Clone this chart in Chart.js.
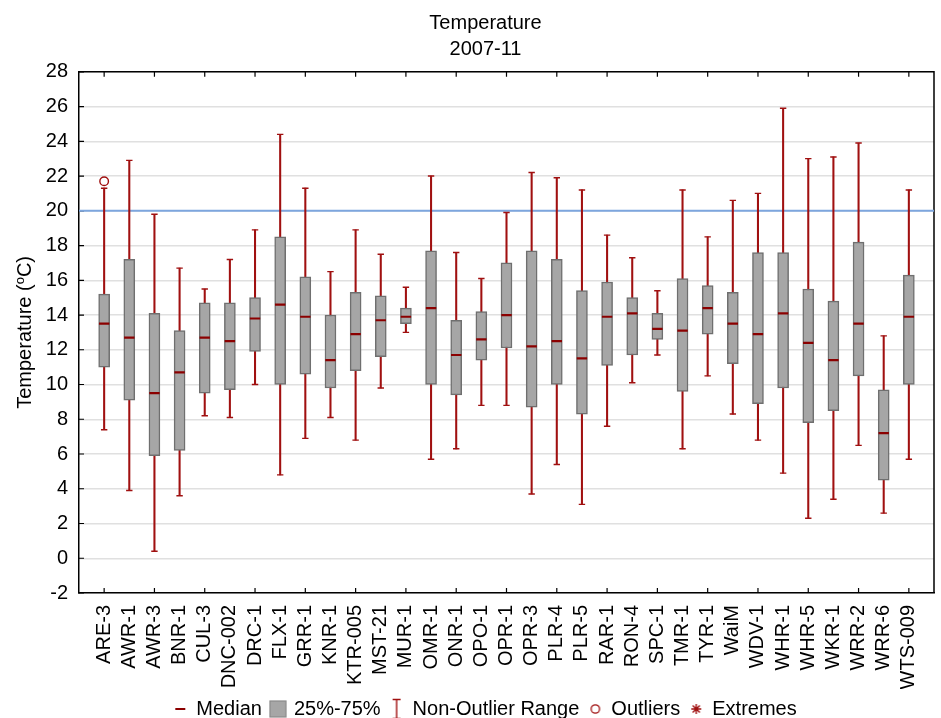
<!DOCTYPE html>
<html>
<head>
<meta charset="utf-8">
<script src="https://cdn.jsdelivr.net/npm/chart.js@4.4.1/dist/chart.umd.min.js"></script>
<style>
  html, body { margin: 0; padding: 0; background: #fff; overflow: hidden; }
  canvas { display: block; }
</style>
</head>
<body>
<canvas id="c" width="970" height="718" style="width:970px;height:718px"></canvas>
<script>
// ---- Data ----
const categories = ['ARE-3','AWR-1','AWR-3','BNR-1','CUL-3','DNC-002','DRC-1','FLX-1','GRR-1','KNR-1','KTR-005','MST-21','MUR-1','OMR-1','ONR-1','OPO-1','OPR-1','OPR-3','PLR-4','PLR-5','RAR-1','RON-4','SPC-1','TMR-1','TYR-1','WaiM','WDV-1','WHR-1','WHR-5','WKR-1','WRR-2','WRR-6','WTS-009'];
const whiskerLow  = [7.4, 3.9, 0.4, 3.6, 8.2, 8.1, 10.0, 4.8, 6.9, 8.1, 6.8, 9.8, 13.0, 5.7, 6.3, 8.8, 8.8, 3.7, 5.4, 3.1, 7.6, 10.1, 11.7, 6.3, 10.5, 8.3, 6.8, 4.9, 2.3, 3.4, 6.5, 2.6, 5.7];
const quartile1   = [11.0, 9.1, 5.9, 6.2, 9.5, 9.7, 11.9, 10.0, 10.6, 9.8, 10.8, 11.6, 13.5, 10.0, 9.4, 11.4, 12.1, 8.7, 10.0, 8.3, 11.1, 11.7, 12.6, 9.6, 12.9, 11.2, 8.9, 9.8, 7.8, 8.5, 10.5, 4.5, 10.0];
const medians     = [13.5, 12.7, 9.5, 10.7, 12.7, 12.5, 13.8, 14.6, 13.9, 11.4, 12.9, 13.7, 13.9, 14.4, 11.7, 12.6, 14.0, 12.2, 12.5, 11.5, 13.9, 14.1, 13.2, 13.1, 14.4, 13.5, 12.9, 14.1, 12.4, 11.4, 13.5, 7.2, 13.9];
const quartile3   = [15.2, 17.2, 14.1, 13.1, 14.7, 14.7, 15.0, 18.5, 16.2, 14.0, 15.3, 15.1, 14.4, 17.7, 13.7, 14.2, 17.0, 17.7, 17.2, 15.4, 15.9, 15.0, 14.1, 16.1, 15.7, 15.3, 17.6, 17.6, 15.5, 14.8, 18.2, 9.7, 16.3];
const whiskerHigh = [21.3, 22.9, 19.8, 16.7, 15.5, 17.2, 18.9, 24.4, 21.3, 16.5, 18.9, 17.5, 15.6, 22.0, 17.6, 16.1, 19.9, 22.2, 21.9, 21.2, 18.6, 17.3, 15.4, 21.2, 18.5, 20.6, 21.0, 25.9, 23.0, 23.1, 23.9, 12.8, 21.2];
const outlierCategories = ['ARE-3'];
const outlierValues = [21.7];
const referenceLevel = 20;
const yTickMin = -2, yTickMax = 28, yTickStep = 2;
const titleLines = ['Temperature', '2007-11'];
const legendLabels = ['Median', '25%-75%', 'Non-Outlier Range', 'Outliers', 'Extremes'];

// ---- Styles ----
const FONT = "'Liberation Sans', Arial, Helvetica, sans-serif";
const DARKRED = '#8b0000';
const WHISKER = '#a01010';
const BOXFILL = '#a6a6a6';
const BOXEDGE = '#6f6f6f';

const pos = (i) => i + 1;              // category index -> x value
const xMax = categories.length + 1;

// ---- Legend icons ----
function icon(w, h, draw) {
  const c = document.createElement('canvas');
  c.width = w; c.height = h;
  const g = c.getContext('2d');
  draw(g);
  return c;
}
const iconMedian = icon(12, 4, g => { g.strokeStyle = DARKRED; g.lineWidth = 2; g.beginPath(); g.moveTo(1, 2); g.lineTo(11, 2); g.stroke(); });
const iconBox = icon(18, 18, g => { g.fillStyle = BOXFILL; g.fillRect(1, 1, 16, 16); g.strokeStyle = '#8a8a8a'; g.lineWidth = 1.2; g.strokeRect(1, 1, 16, 16); });
const iconRange = icon(10, 22, g => { g.strokeStyle = WHISKER; g.lineWidth = 1.4; g.beginPath(); g.moveTo(5, 1.5); g.lineTo(5, 20.5); g.moveTo(1, 1.5); g.lineTo(9, 1.5); g.moveTo(1, 20.5); g.lineTo(9, 20.5); g.stroke(); });
const iconOutlier = icon(12, 12, g => { g.strokeStyle = WHISKER; g.lineWidth = 1.3; g.beginPath(); g.arc(6, 6, 4.2, 0, Math.PI * 2); g.stroke(); });
const iconExtreme = icon(14, 14, g => {
  g.strokeStyle = WHISKER; g.lineWidth = 1.4; g.beginPath();
  for (let k = 0; k < 4; k++) { const a = k * Math.PI / 4; g.moveTo(7 - 5 * Math.cos(a), 7 - 5 * Math.sin(a)); g.lineTo(7 + 5 * Math.cos(a), 7 + 5 * Math.sin(a)); }
  g.stroke();
});
const legendIcons = [iconMedian, iconBox, iconRange, iconOutlier, iconExtreme];

// ---- Plugins ----
const framePlugin = {
  id: 'frame',
  beforeDatasetsDraw(chart) {
    const { ctx, chartArea: a, scales } = chart;
    const x = scales.x, y = scales.y;
    ctx.save();
    ctx.strokeStyle = '#000';
    ctx.lineWidth = 1.5;
    ctx.beginPath();
    ctx.moveTo(a.left, a.top); ctx.lineTo(a.right, a.top); ctx.lineTo(a.right, a.bottom);
    ctx.stroke();
    ctx.lineWidth = 1.2;
    ctx.beginPath();
    y.ticks.forEach(t => { const py = y.getPixelForValue(t.value); ctx.moveTo(a.left, py); ctx.lineTo(a.left + 5, py); });
    for (let i = 0; i < categories.length; i += 2) {
      const px = x.getPixelForValue(pos(i));
      ctx.moveTo(px, a.top); ctx.lineTo(px, a.top + 5);
      ctx.moveTo(px, a.bottom); ctx.lineTo(px, a.bottom - 5);
    }
    ctx.stroke();
    ctx.restore();
  }
};

const yTitlePlugin = {
  id: 'ytitle',
  afterDraw(chart) {
    const { ctx, chartArea: a } = chart;
    const big = '20px ' + FONT, small = '13px ' + FONT;
    const p1 = 'Temperature (', p2 = 'o', p3 = 'C)';
    ctx.save();
    ctx.font = big; const w1 = ctx.measureText(p1).width, w3 = ctx.measureText(p3).width;
    ctx.font = small; const w2 = ctx.measureText(p2).width;
    const total = w1 + w2 + w3;
    ctx.translate(31, (a.top + a.bottom) / 2);
    ctx.rotate(-Math.PI / 2);
    ctx.fillStyle = '#000';
    ctx.textBaseline = 'alphabetic';
    ctx.textAlign = 'left';
    let cx = -total / 2;
    ctx.font = big; ctx.fillText(p1, cx, 0); cx += w1;
    ctx.font = small; ctx.fillText(p2, cx, -7); cx += w2;
    ctx.font = big; ctx.fillText(p3, cx, 0);
    ctx.restore();
  }
};

// ---- Datasets ----
const boxData = categories.map((c, i) => ({ x: pos(i), y: [quartile1[i], quartile3[i]] }));
const whiskerData = categories.map((c, i) => ({ x: pos(i), y: [whiskerLow[i], whiskerHigh[i]] }));
const capData = categories.flatMap((c, i) => [{ x: pos(i), y: whiskerLow[i] }, { x: pos(i), y: whiskerHigh[i] }]);
const medianData = categories.map((c, i) => ({ x: pos(i), y: medians[i] }));
const outlierData = outlierCategories.map((c, k) => ({ x: pos(categories.indexOf(c)), y: outlierValues[k] }));
const refData = [{ x: 0, y: referenceLevel }, { x: xMax, y: referenceLevel }];

const chart = new Chart(document.getElementById('c'), {
  type: 'bar',
  data: {
    datasets: [
      { type: 'line', label: 'ref', data: refData, borderColor: '#7da6de', borderWidth: 2, pointRadius: 0, order: 9 },
      { type: 'bar', label: 'Non-Outlier Range', data: whiskerData, backgroundColor: WHISKER, borderWidth: 0, barThickness: 1.4, grouped: false, order: 8 },
      { type: 'scatter', label: 'caps', data: capData, pointStyle: 'line', pointRadius: 3.2, borderColor: WHISKER, borderWidth: 1.4, order: 7 },
      { type: 'bar', label: '25%-75%', data: boxData, backgroundColor: BOXFILL, borderColor: BOXEDGE, borderWidth: 1.5, borderSkipped: false, barThickness: 11, grouped: false, order: 5 },
      { type: 'scatter', label: 'Median', data: medianData, pointStyle: 'line', pointRadius: 5.2, borderColor: DARKRED, borderWidth: 2.2, order: 2 },
      { type: 'scatter', label: 'Outliers', data: outlierData, pointStyle: 'circle', pointRadius: 4.3, borderColor: WHISKER, backgroundColor: '#fff', borderWidth: 1.4, order: 1 }
    ]
  },
  options: {
    responsive: false,
    devicePixelRatio: 1,
    animation: false,
    events: [],
    layout: { padding: { left: 18, right: 17, top: 0, bottom: -11 } },
    plugins: {
      tooltip: { enabled: false },
      title: {
        display: true, text: titleLines, color: '#000',
        font: { family: FONT, size: 20, weight: 'normal', lineHeight: 1.27 },
        padding: { top: 11, bottom: 10 }
      },
      legend: {
        display: true, position: 'bottom',
        labels: {
          usePointStyle: true, boxWidth: 12, boxHeight: 18, padding: 10, color: '#000',
          font: { family: FONT, size: 20 },
          generateLabels: () => legendLabels.map((t, k) => ({
            text: t, pointStyle: legendIcons[k], fillStyle: 'transparent', strokeStyle: 'transparent',
            lineWidth: 0, hidden: false, fontColor: '#000', datasetIndex: k
          }))
        }
      }
    },
    scales: {
      x: {
        type: 'linear', min: 0, max: xMax, offset: false,
        grid: { display: false, drawTicks: false },
        border: { display: true, color: '#000', width: 1.5 },
        ticks: {
          stepSize: 1, autoSkip: false, maxTicksLimit: 100, maxRotation: 90, minRotation: 90,
          padding: 12, color: '#000', font: { family: FONT, size: 20 },
          callback: (v) => (Number.isInteger(v) && v >= 1 && v <= categories.length) ? categories[v - 1] : ''
        },
        afterFit: (s) => { s.height = 96; }
      },
      y: {
        min: yTickMin, max: yTickMax,
        grid: { color: '#e0e0e0', lineWidth: 1.5, drawTicks: false },
        border: { display: true, color: '#000', width: 1.5 },
        ticks: { stepSize: yTickStep, padding: 11, color: '#000', font: { family: FONT, size: 20 } },
        afterFit: (s) => { s.width = 61; }
      }
    }
  },
  plugins: [framePlugin, yTitlePlugin]
});
</script>
</body>
</html>
